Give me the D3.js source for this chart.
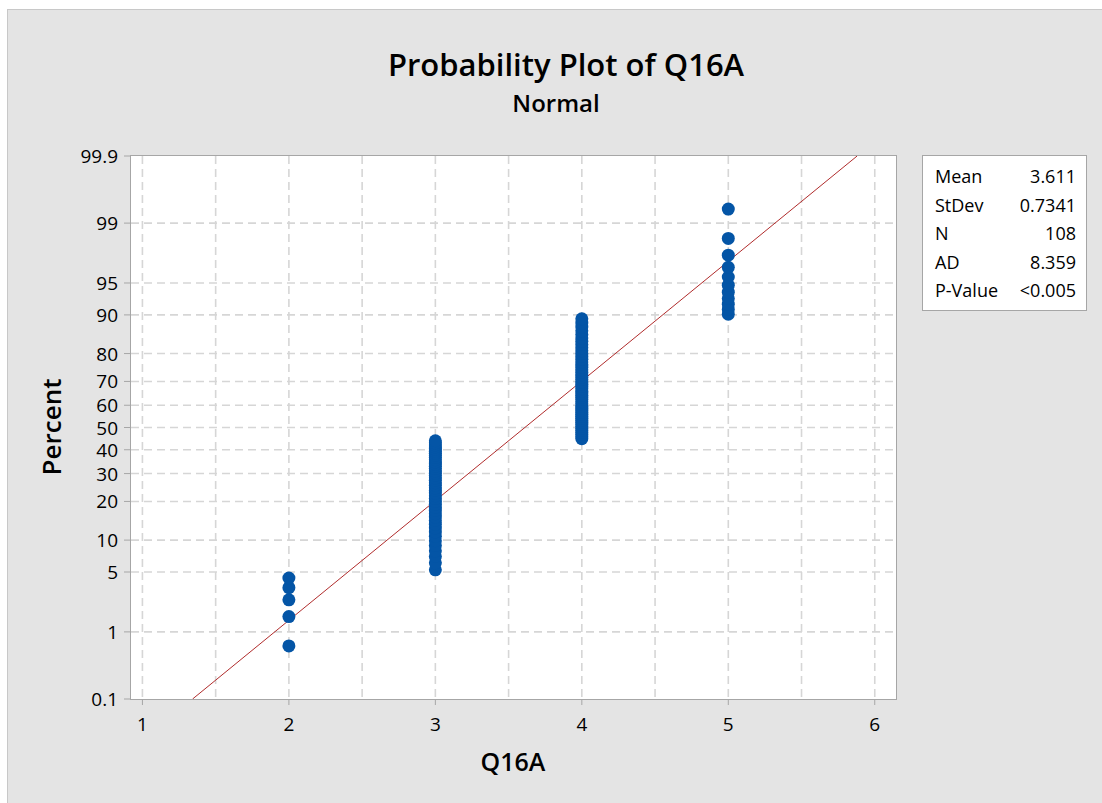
<!DOCTYPE html>
<html>
<head>
<meta charset="utf-8">
<script src="https://cdn.jsdelivr.net/npm/d3@7"></script>
<style>
  body { margin: 0; background: #fff; }
  svg { display: block; font-family: "Open Sans", sans-serif; }
</style>
</head>
<body>
<div id="chart"></div>
<script>
// Q16A responses: each distinct value and how many times it occurs
var values = [2, 3, 4, 5];
var counts = [5, 43, 49, 11];

// y axis ticks (percent, normal probability scale)
var percentTicks = [0.1, 1, 5, 10, 20, 30, 40, 50, 60, 70, 80, 90, 95, 99, 99.9];
var xTicks = [1, 2, 3, 4, 5, 6];
var xGrid = [1, 1.5, 2, 2.5, 3, 3.5, 4, 4.5, 5, 5.5, 6];

// summary box
var statLabels = ["Mean", "StDev", "N", "AD", "P-Value"];
var statValues = ["3.611", "0.7341", "108", "8.359", "<0.005"];
var fitMean = 3.611, fitSd = 0.7341;

var W = 1102, H = 803;
var margin = { left: 131, top: 156, right: 206, bottom: 104 };

// inverse normal cdf (Acklam)
function qnorm(p) {
  var a = [-3.969683028665376e+01, 2.209460984245205e+02, -2.759285104469687e+02,
    1.383577518672690e+02, -3.066479806614716e+01, 2.506628277459239e+00];
  var b = [-5.447609879822406e+01, 1.615858368580409e+02, -1.556989798598866e+02,
    6.680131188771972e+01, -1.328068155288572e+01];
  var c = [-7.784894002430293e-03, -3.223964580411365e-01, -2.400758277161838e+00,
    -2.549732539343734e+00, 4.374664141464968e+00, 2.938163982698783e+00];
  var d = [7.784695709041462e-03, 3.224671290700398e-01, 2.445134137142996e+00,
    3.754408661907416e+00];
  var pl = 0.02425, q, r;
  if (p < pl) {
    q = Math.sqrt(-2 * Math.log(p));
    return (((((c[0]*q+c[1])*q+c[2])*q+c[3])*q+c[4])*q+c[5]) /
      ((((d[0]*q+d[1])*q+d[2])*q+d[3])*q+1);
  }
  if (p > 1 - pl) {
    q = Math.sqrt(-2 * Math.log(1 - p));
    return -(((((c[0]*q+c[1])*q+c[2])*q+c[3])*q+c[4])*q+c[5]) /
      ((((d[0]*q+d[1])*q+d[2])*q+d[3])*q+1);
  }
  q = p - 0.5; r = q * q;
  return (((((a[0]*r+a[1])*r+a[2])*r+a[3])*r+a[4])*r+a[5])*q /
    (((((b[0]*r+b[1])*r+b[2])*r+b[3])*r+b[4])*r+1);
}

// expand to sorted observations and median-rank plotting positions
var obs = [];
values.forEach(function (v, k) {
  for (var j = 0; j < counts[k]; j++) obs.push(v);
});
var n = obs.length;
var points = obs.map(function (v, i) {
  return { x: v, p: 100 * (i + 1 - 0.3) / (n + 0.4) };
});

var svg = d3.select("#chart").append("svg")
  .attr("width", W).attr("height", H);

svg.append("rect")
  .attr("x", 7.5).attr("y", 9.5)
  .attr("width", W).attr("height", H)
  .attr("fill", "#e4e4e4").attr("stroke", "#c8c8c8");

var pw = W - margin.left - margin.right;
var ph = H - margin.top - margin.bottom;

var x = d3.scaleLinear().domain([0.922, 6.145]).range([margin.left, margin.left + pw]);
var zMax = qnorm(0.999);
var yz = d3.scaleLinear().domain([-zMax, zMax]).range([margin.top + ph, margin.top]);
var y = function (pct) { return yz(qnorm(pct / 100)); };

svg.append("rect")
  .attr("x", margin.left).attr("y", margin.top)
  .attr("width", pw).attr("height", ph)
  .attr("fill", "#fff");

var grid = svg.append("g")
  .attr("stroke", "#d6d6d6").attr("stroke-width", 1.6)
  .attr("stroke-dasharray", "8,5");

grid.selectAll(".vg").data(xGrid).enter().append("line")
  .attr("x1", d => x(d)).attr("x2", d => x(d))
  .attr("y1", margin.top).attr("y2", margin.top + ph);

grid.selectAll(".hg").data(percentTicks.slice(1, -1)).enter().append("line")
  .attr("x1", margin.left).attr("x2", margin.left + pw)
  .attr("y1", d => y(d)).attr("y2", d => y(d));

// frame
svg.append("rect")
  .attr("x", margin.left - 0.5).attr("y", margin.top - 0.5)
  .attr("width", pw + 1).attr("height", ph + 1)
  .attr("fill", "none").attr("stroke", "#a6a6a6");

// fitted line
var clip = svg.append("clipPath").attr("id", "plotclip")
  .append("rect").attr("x", margin.left).attr("y", margin.top)
  .attr("width", pw).attr("height", ph);

var fitP = [0.1, 99.9];
svg.append("line")
  .attr("clip-path", "url(#plotclip)")
  .attr("x1", x(fitMean + fitSd * qnorm(fitP[0] / 100)))
  .attr("y1", y(fitP[0]))
  .attr("x2", x(fitMean + fitSd * qnorm(fitP[1] / 100)))
  .attr("y2", y(fitP[1]))
  .attr("stroke", "#b02c2c").attr("stroke-width", 1);

// points
svg.append("g").selectAll("circle").data(points).enter().append("circle")
  .attr("cx", d => x(d.x))
  .attr("cy", d => y(d.p))
  .attr("r", 6.5)
  .attr("fill", "#0455a6");

// y axis ticks + labels
var ya = svg.append("g");
ya.selectAll("line").data(percentTicks).enter().append("line")
  .attr("x1", margin.left - 7).attr("x2", margin.left)
  .attr("y1", d => y(d)).attr("y2", d => y(d))
  .attr("stroke", "#a6a6a6");
ya.selectAll("text").data(percentTicks).enter().append("text")
  .attr("x", margin.left - 13)
  .attr("y", d => y(d) + 7)
  .attr("text-anchor", "end")
  .attr("font-size", 19).attr("fill", "#000")
  .text(d => d);

// x axis ticks + labels
var xa = svg.append("g");
xa.selectAll("line").data(xTicks).enter().append("line")
  .attr("x1", d => x(d)).attr("x2", d => x(d))
  .attr("y1", margin.top + ph).attr("y2", margin.top + ph + 6)
  .attr("stroke", "#a6a6a6");
xa.selectAll("text").data(xTicks).enter().append("text")
  .attr("x", d => x(d))
  .attr("y", margin.top + ph + 32)
  .attr("text-anchor", "middle")
  .attr("font-size", 19).attr("fill", "#000")
  .text(d => d);

// titles
svg.append("text")
  .attr("x", 566).attr("y", 76)
  .attr("text-anchor", "middle")
  .attr("font-size", 31).attr("font-weight", 600)
  .text("Probability Plot of Q16A");
svg.append("text")
  .attr("x", 556).attr("y", 112)
  .attr("text-anchor", "middle")
  .attr("font-size", 24).attr("font-weight", 600)
  .text("Normal");

svg.append("text")
  .attr("x", 513).attr("y", 771)
  .attr("text-anchor", "middle")
  .attr("font-size", 25).attr("font-weight", 600)
  .text("Q16A");

svg.append("text")
  .attr("transform", "translate(61,427) rotate(-90)")
  .attr("text-anchor", "middle")
  .attr("font-size", 26).attr("font-weight", 600)
  .text("Percent");

// stats box
var box = svg.append("g").attr("transform", "translate(923,156)");
box.append("rect")
  .attr("x", -0.5).attr("y", -0.5)
  .attr("width", 164).attr("height", 155)
  .attr("fill", "#fff").attr("stroke", "#a6a6a6");
box.selectAll(".lab").data(statLabels).enter().append("text")
  .attr("x", 12)
  .attr("y", (d, i) => 27 + i * 28.5)
  .attr("font-size", 18).attr("fill", "#000")
  .text(d => d);
box.selectAll(".val").data(statValues).enter().append("text")
  .attr("x", 153)
  .attr("y", (d, i) => 27 + i * 28.5)
  .attr("text-anchor", "end")
  .attr("font-size", 18).attr("fill", "#000")
  .text(d => d);
</script>
</body>
</html>
